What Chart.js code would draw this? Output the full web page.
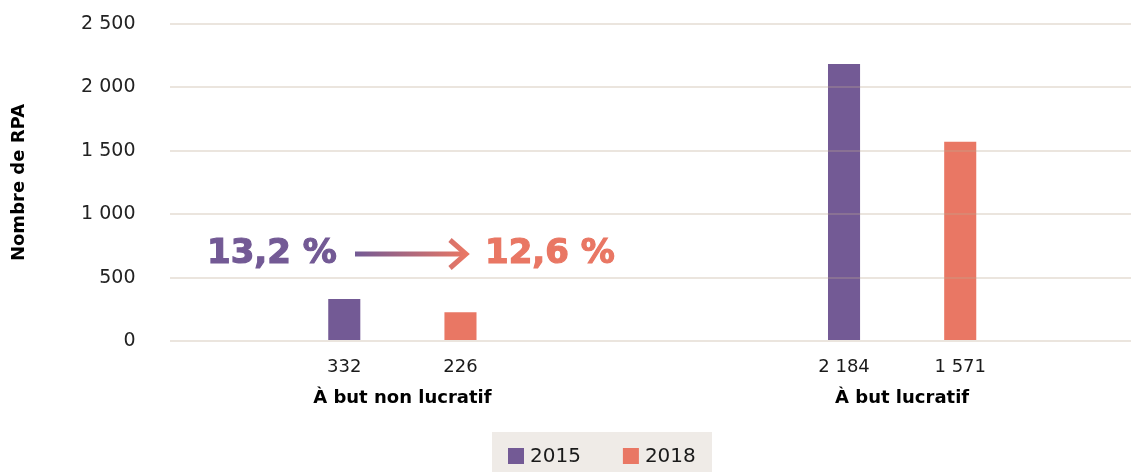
<!DOCTYPE html>
<html lang="fr">
<head>
<meta charset="utf-8">
<title>Nombre de RPA</title>
<script src="https://cdn.jsdelivr.net/npm/chart.js@4/dist/chart.umd.min.js"></script>
<style>
  html, body { margin: 0; padding: 0; background: #fff; }
  #wrap { width: 1131px; height: 472px; overflow: hidden; position: relative; }
  #inner { width: 1152px; height: 472px; position: relative; }
</style>
</head>
<body>
<div id="wrap"><div id="inner"><canvas id="rpaChart"></canvas></div></div>
<script>
// Data
const categories = ['À but non lucratif', 'À but lucratif'];
const years = ['2015', '2018'];
const rpa2015 = [332, 2184];
const rpa2018 = [226, 1571];
const yTicks = [0, 500, 1000, 1500, 2000, 2500];
const shareLabels = ['13,2 %', '12,6 %'];

const PURPLE = '#735a95';
const ORANGE = '#e97764';
const FONT = "'DejaVu Sans', Verdana, sans-serif";
const GRID_START = 170;

// "2 500" style numbers
function fmt(v) {
  return String(v).replace(/\B(?=(\d{3})+(?!\d))/g, ' ');
}

// gridlines start a bit right of the plot edge in the original
const gridMask = {
  id: 'gridMask',
  afterDraw(chart) {
    const a = chart.chartArea;
    const ctx = chart.ctx;
    ctx.save();
    ctx.fillStyle = '#fff';
    ctx.fillRect(a.left - 2, a.top - 3, GRID_START - a.left + 2, a.bottom - a.top + 6);
    ctx.restore();
  }
};

// Value labels under each bar
const valueLabels = {
  id: 'valueLabels',
  afterDraw(chart) {
    const ctx = chart.ctx;
    ctx.save();
    ctx.font = '18px ' + FONT;
    ctx.fillStyle = '#1a1a1a';
    ctx.textAlign = 'center';
    ctx.textBaseline = 'middle';
    chart.data.datasets.forEach((ds, i) => {
      chart.getDatasetMeta(i).data.forEach((bar, j) => {
        ctx.fillText(fmt(ds.data[j]), bar.x, chart.chartArea.bottom + 26);
      });
    });
    ctx.restore();
  }
};

// Legend in a grey box
const boxLegend = {
  id: 'boxLegend',
  afterDraw(chart) {
    const ctx = chart.ctx;
    const top = chart.chartArea.bottom + 91;
    ctx.save();
    ctx.fillStyle = '#efebe7';
    ctx.fillRect(492, top, 220, chart.height - top);
    ctx.font = '20px ' + FONT;
    ctx.textBaseline = 'middle';
    ctx.textAlign = 'left';
    let x = 508;
    chart.data.datasets.forEach(ds => {
      ctx.fillStyle = ds.backgroundColor;
      ctx.fillRect(x, top + 16, 16, 16);
      ctx.fillStyle = '#1a1a1a';
      ctx.fillText(ds.label, x + 22, top + 25);
      x += 22 + ctx.measureText(ds.label).width + 42;
    });
    ctx.restore();
  }
};

// "13,2 % -> 12,6 %" annotation
const shareArrow = {
  id: 'shareArrow',
  afterDraw(chart) {
    const ctx = chart.ctx;
    const a = chart.chartArea;
    const y = a.top + 230;
    ctx.save();
    ctx.font = 'bold 34px ' + FONT;
    ctx.textBaseline = 'middle';
    ctx.textAlign = 'left';
    ctx.lineWidth = 1.2;
    ctx.fillStyle = ctx.strokeStyle = PURPLE;
    ctx.fillText(shareLabels[0], 207, y);
    ctx.strokeText(shareLabels[0], 207, y);
    ctx.fillStyle = ctx.strokeStyle = ORANGE;
    ctx.fillText(shareLabels[1], 485, y);
    ctx.strokeText(shareLabels[1], 485, y);

    const x0 = 355, x1 = 466;
    const grad = ctx.createLinearGradient(x0, 0, x1, 0);
    grad.addColorStop(0, PURPLE);
    grad.addColorStop(1, ORANGE);
    ctx.strokeStyle = grad;
    ctx.lineWidth = 5;
    ctx.beginPath();
    ctx.moveTo(x0, y);
    ctx.lineTo(x1 - 2, y);
    ctx.stroke();
    ctx.lineJoin = 'miter';
    ctx.beginPath();
    ctx.moveTo(x1 - 16, y - 14);
    ctx.lineTo(x1, y);
    ctx.lineTo(x1 - 16, y + 14);
    ctx.stroke();
    ctx.restore();
  }
};

const chart = new Chart(document.getElementById('rpaChart'), {
  type: 'bar',
  data: {
    labels: categories,
    datasets: [
      { label: years[0], data: rpa2015, backgroundColor: PURPLE, borderWidth: 0 },
      { label: years[1], data: rpa2018, backgroundColor: ORANGE, borderWidth: 0 }
    ]
  },
  options: {
    responsive: true,
    maintainAspectRatio: false,
    animation: false,
    categoryPercentage: 0.465,
    barPercentage: 0.276,
    layout: { padding: { top: 24, right: 0, left: 0, bottom: 40 } },
    scales: {
      x: {
        grid: { display: false },
        border: { display: false },
        ticks: {
          color: '#000',
          font: { family: FONT, size: 18, weight: 'bold' },
          padding: 39
        },
        afterFit(scale) {
          scale.height = 91;
          scale.paddingTop = 0;
        }
      },
      y: {
        min: 0,
        max: 2500,
        afterBuildTicks(scale) {
          scale.ticks = yTicks.map(v => ({ value: v }));
        },
        grid: {
          color: 'rgba(190,170,145,0.3)',
          lineWidth: 2,
          drawTicks: false,
          z: 1
        },
        border: { display: false },
        ticks: {
          color: '#222',
          font: { family: FONT, size: 19 },
          padding: 17,
          callback: v => fmt(v)
        },
        title: {
          display: true,
          text: 'Nombre de RPA',
          color: '#000',
          font: { family: FONT, size: 18, weight: 'bold' },
          padding: { top: 9, bottom: 0 }
        },
        afterFit(scale) {
          scale.width = 152.5;
          scale.paddingTop = 0;
        }
      }
    },
    plugins: {
      legend: { display: false },
      tooltip: { enabled: false }
    }
  },
  plugins: [gridMask, valueLabels, boxLegend, shareArrow]
});
</script>
</body>
</html>
